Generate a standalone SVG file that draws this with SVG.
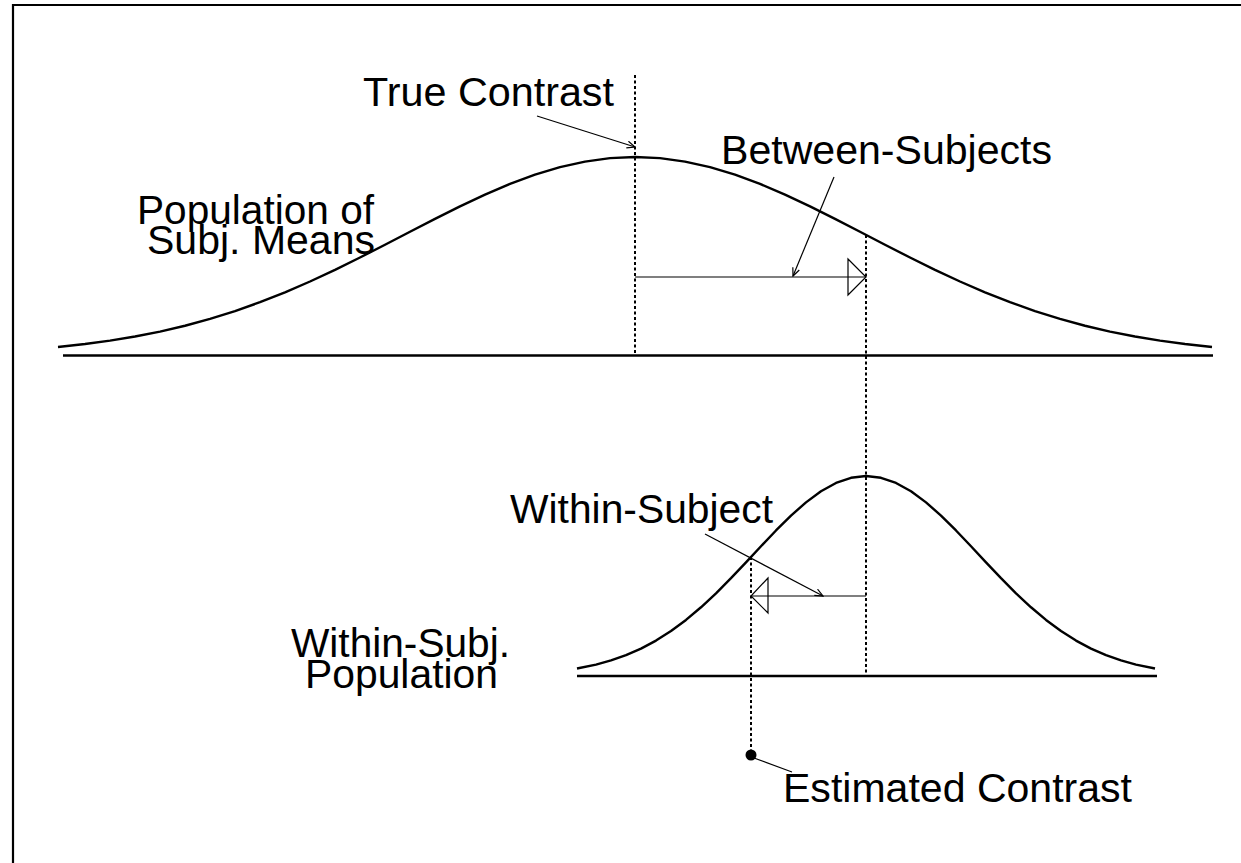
<svg xmlns="http://www.w3.org/2000/svg" width="1241" height="863" viewBox="0 0 1241 863">
<style>
.txt{font-family:"Liberation Sans",Arial,sans-serif;font-size:41px;fill:#000}
.curve{fill:none;stroke:#000;stroke-width:2.4;stroke-linejoin:round}
.base{fill:none;stroke:#000;stroke-width:2.4}
.dash{fill:none;stroke:#000;stroke-width:2;stroke-dasharray:3 2.5}
.thin{fill:none;stroke:#000;stroke-width:1.2}
.tri{fill:none;stroke:#000;stroke-width:1.2;stroke-linejoin:miter}
</style>
<defs>
<marker id="v" viewBox="0 0 10 8" refX="9" refY="4" markerWidth="10" markerHeight="8" markerUnits="userSpaceOnUse" orient="auto">
<path d="M1,0.5 L9,4 L1,7.5" fill="none" stroke="#000" stroke-width="1.2"/>
</marker>
</defs>
<rect width="1241" height="863" fill="#fff"/>
<path d="M13,863 V5 H1241" fill="none" stroke="#000" stroke-width="2.2"/>

<g id="population-curve">
<polyline class="curve" points="58,347 85,344.06 110,340.67 135,336.54 160,331.59 185,325.73 210,318.91 235,311.06 260,302.19 285,292.3 310,281.48 335,269.83 360,257.5 385,244.72 410,231.73 435,218.82 460,206.32 485,194.58 510,183.91 535,174.67 560,167.14 585,161.57 610,158.15 635,157 660,158.15 685,161.57 710,167.14 735,174.67 760,183.91 785,194.58 810,206.32 835,218.82 860,231.73 885,244.72 910,257.5 935,269.83 960,281.48 985,292.3 1010,302.19 1035,311.06 1060,318.91 1085,325.73 1110,331.59 1135,336.54 1160,340.67 1185,344.06 1212,347"/>
<line class="base" x1="63" y1="355.5" x2="1213" y2="355.5"/>
</g>

<g id="within-curve">
<polyline class="curve" points="577,668.46 596,664.56 611,660.42 626,655.14 641,648.57 656,640.57 671,631.03 686,619.92 701,607.29 716,593.3 731,578.18 746,562.35 761,546.25 776,530.47 791,515.62 806,502.35 821,491.28 836,482.94 851,477.76 866,476 881,477.76 896,482.94 911,491.28 926,502.35 941,515.62 956,530.47 971,546.25 986,562.35 1001,578.18 1016,593.3 1031,607.29 1046,619.92 1061,631.03 1076,640.57 1091,648.57 1106,655.14 1121,660.42 1136,664.56 1155,668.46"/>
<line class="base" x1="577" y1="676" x2="1157" y2="676"/>
</g>

<g id="labels">
<text class="txt" x="363" y="106" textLength="251" lengthAdjust="spacingAndGlyphs">True Contrast</text>
<text class="txt" x="721" y="164" textLength="331" lengthAdjust="spacingAndGlyphs">Between-Subjects</text>
<text class="txt" x="137" y="224" textLength="237" lengthAdjust="spacingAndGlyphs">Population of</text>
<text class="txt" x="147" y="254" textLength="228" lengthAdjust="spacingAndGlyphs">Subj. Means</text>
<text class="txt" x="510" y="523" textLength="263" lengthAdjust="spacingAndGlyphs">Within-Subject</text>
<text class="txt" x="291" y="657" textLength="219" lengthAdjust="spacingAndGlyphs">Within-Subj.</text>
<text class="txt" x="305" y="688" textLength="193" lengthAdjust="spacingAndGlyphs">Population</text>
<text class="txt" x="783" y="802" textLength="349" lengthAdjust="spacingAndGlyphs">Estimated Contrast</text>
</g>

<g id="connectors">
<line class="dash" x1="635" y1="75" x2="635" y2="355"/>
<line class="dash" x1="866" y1="235" x2="866" y2="676"/>
<line class="dash" x1="751" y1="557" x2="751" y2="755"/>
<line class="thin" x1="635" y1="277" x2="866" y2="277"/>
<polygon class="tri" points="848,259 866,277 848,295"/>
<line class="thin" x1="866" y1="596" x2="751" y2="596"/>
<polygon class="tri" points="768,578 751,596 768,613"/>
<line class="thin" x1="537" y1="116" x2="635" y2="147" marker-end="url(#v)"/>
<line class="thin" x1="834" y1="177" x2="793" y2="276" marker-end="url(#v)"/>
<line class="thin" x1="705" y1="534" x2="823" y2="596" marker-end="url(#v)"/>
<line class="thin" x1="792" y1="772" x2="754" y2="758"/>
<circle cx="751" cy="755" r="5.5" fill="#000"/>
</g>
</svg>
